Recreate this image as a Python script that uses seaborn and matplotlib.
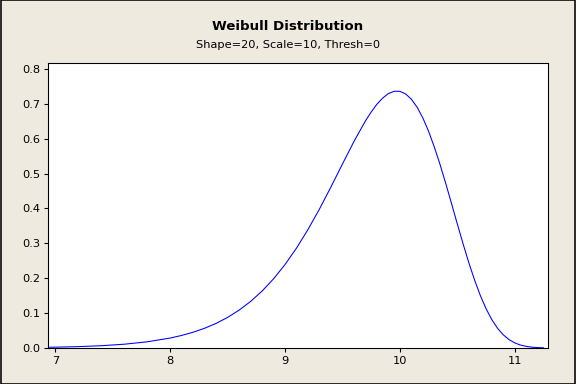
import numpy as np
import pandas as pd
import matplotlib
matplotlib.use("Agg")
import matplotlib.pyplot as plt
import seaborn as sns

# values
x_vals = [6.95, 7.0, 7.2, 7.4, 7.6, 7.8, 8.0, 8.1, 8.2, 8.3, 8.4, 8.5, 8.6, 8.7,
          8.8, 8.9, 9.0, 9.1, 9.2, 9.3, 9.4, 9.5, 9.6, 9.7, 9.75, 9.8, 9.85, 9.9, 9.95,
          10.0, 10.05, 10.1, 10.15, 10.2, 10.25, 10.3, 10.35, 10.4, 10.45,
          10.5, 10.55, 10.6, 10.65, 10.7, 10.75, 10.8, 10.85, 10.9, 10.95,
          11.0, 11.05, 11.1, 11.15, 11.2, 11.25]
density = [0.0020, 0.0023, 0.0039, 0.0065, 0.0108, 0.0177, 0.0285, 0.0360,
           0.0452, 0.0566, 0.0706, 0.0877, 0.1085, 0.1334, 0.1631, 0.1983,
           0.2393, 0.2864, 0.3397, 0.3985, 0.4618, 0.5274, 0.5919, 0.6509,
           0.6763, 0.6988, 0.7163, 0.7293, 0.7359, 0.7358, 0.7283, 0.7132,
           0.6902, 0.6594, 0.6212, 0.5761, 0.5258, 0.4711, 0.4138, 0.3559,
           0.2990, 0.2449, 0.1952, 0.1509, 0.1130, 0.0816, 0.0567, 0.0379,
           0.0241, 0.0146, 0.0084, 0.0046, 0.0023, 0.0011, 0.0005]

x_ticks = [7, 8, 9, 10, 11]
y_ticks = [0.0, 0.1, 0.2, 0.3, 0.4, 0.5, 0.6, 0.7, 0.8]

df = pd.DataFrame({"x": x_vals, "density": density})

bg = "#EEEAE0"
fig = plt.figure(figsize=(6, 4), dpi=96, facecolor=bg)
ax = fig.add_axes([0.0842, 0.0938, 0.8672, 0.7422])
ax.set_facecolor("white")

sns.lineplot(data=df, x="x", y="density", color="#0000FF", linewidth=0.8, ax=ax)

ax.set_xlim(6.94, 11.29)
ax.set_ylim(0, 0.817)
ax.set_xticks(x_ticks)
ax.set_yticks(y_ticks)
ax.set_yticklabels([f"{v:.1f}" for v in y_ticks])
ax.set_xlabel("")
ax.set_ylabel("")
ax.tick_params(direction="out", length=3, width=0.8, labelsize=8.5, colors="black", pad=3)
for s in ax.spines.values():
    s.set_color("black")
    s.set_linewidth(0.8)

fig.text(0.5, 1 - 27 / 384, "Weibull Distribution", ha="center", va="center",
         fontsize=10, fontweight="bold")
fig.text(0.5, 1 - 45 / 384, "Shape=20, Scale=10, Thresh=0", ha="center",
         va="center", fontsize=8.5)

# outer frame of the figure
fig.patches.append(plt.Rectangle((0.001, 0.001), 0.998, 0.998, transform=fig.transFigure,
                                 fill=False, edgecolor="black", linewidth=1.2))

fig.savefig("out.png", dpi=96, facecolor=bg)
